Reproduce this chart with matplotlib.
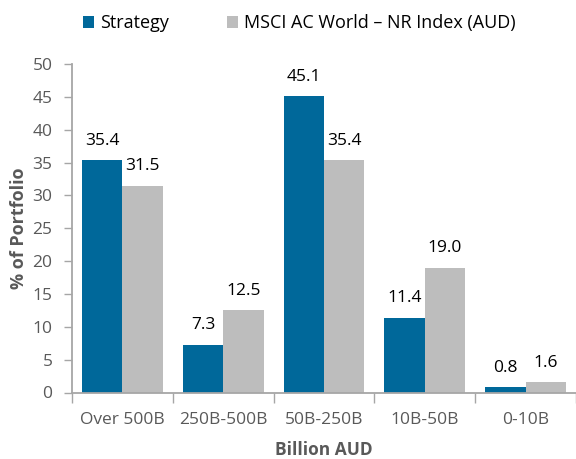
import numpy as np
import matplotlib
matplotlib.use("Agg")
from matplotlib import pyplot as plt

# 数据
categories = ["Over 500B", "250B-500B", "50B-250B", "10B-50B", "0-10B"]
strategy = [35.4, 7.3, 45.1, 11.4, 0.8]
index_vals = [31.5, 12.5, 35.4, 19.0, 1.6]
series_names = ["Strategy", "MSCI AC World \u2013 NR Index (AUD)"]

blue = "#00689A"
grey = "#BDBDBD"
axis_grey = "#A6A6A6"
text_grey = "#595959"

plt.rcParams["font.family"] = ["Open Sans", "DejaVu Sans"]

fig = plt.figure(figsize=(5.76, 4.59), dpi=100)
ax = fig.add_axes([72 / 576, 66.5 / 459, 504 / 576, 328.5 / 459])

x = np.arange(len(categories))
w = 0.40
b1 = ax.bar(x - w / 2, strategy, width=w, color=blue, label=series_names[0])
b2 = ax.bar(x + w / 2, index_vals, width=w, color=grey, label=series_names[1])

for bars, vals in ((b1, strategy), (b2, index_vals)):
    for r, v in zip(bars, vals):
        ax.annotate(f"{v:.1f}", (r.get_x() + r.get_width() / 2, v),
                    xytext=(0, 11), textcoords="offset points",
                    ha="center", va="baseline", fontsize=12.5, color="black")

ax.set_xlim(-0.5, len(categories) - 0.5)
ax.set_ylim(0, 50)
ax.set_yticks(np.arange(0, 51, 5))

# 分组边界处的刻度线，标签放在中间
ax.set_xticks(np.arange(len(categories) + 1) - 0.5)
ax.set_xticklabels([])
ax.set_xticks(x, minor=True)
ax.set_xticklabels(categories, minor=True)
ax.tick_params(axis="x", which="major", length=7, width=1, color=axis_grey)
ax.tick_params(axis="x", which="minor", length=0, pad=14, labelsize=12.5, labelcolor=text_grey)
ax.tick_params(axis="y", length=6, width=1, color=axis_grey, labelsize=12.5,
               labelcolor=text_grey, pad=8)

for s in ["top", "right"]:
    ax.spines[s].set_visible(False)
for s in ["left", "bottom"]:
    ax.spines[s].set_color(axis_grey)
    ax.spines[s].set_linewidth(1.3)

ax.set_ylabel("% of Portfolio", fontsize=13, fontweight="bold", color=text_grey, labelpad=3)
ax.set_xlabel("Billion AUD", fontsize=12.5, fontweight="bold", color=text_grey, labelpad=9.5)

fig.legend(loc="center", bbox_to_anchor=(299 / 576, 1 - 23 / 459), ncol=2,
           frameon=False, fontsize=13, handlelength=0.65, handleheight=0.65,
           handletextpad=0.3, columnspacing=3.2)

fig.savefig("out.png", dpi=100)
